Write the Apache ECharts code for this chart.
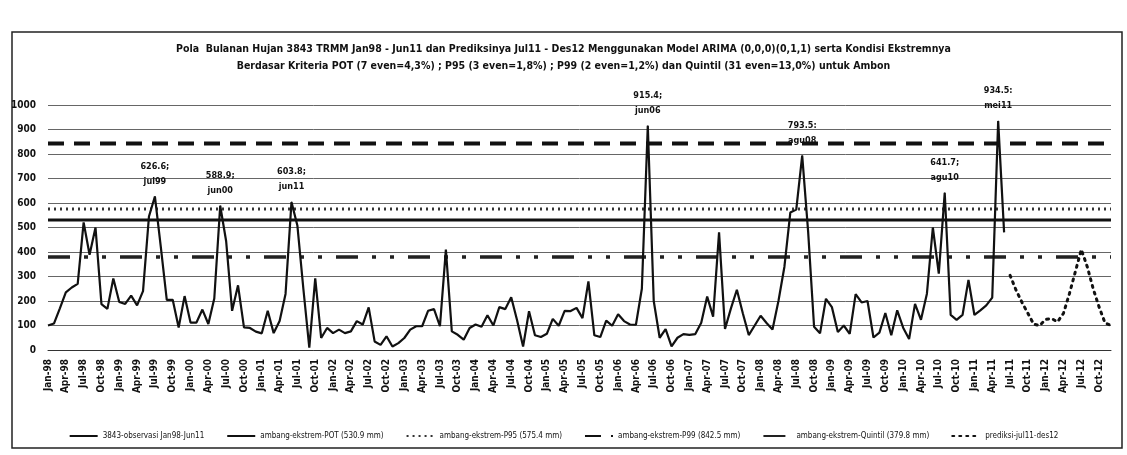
<!DOCTYPE html>
<html>
<head>
<meta charset="utf-8">
<script src="https://cdn.jsdelivr.net/npm/echarts@6/dist/echarts.min.js"></script>
<style>
html, body { margin: 0; padding: 0; background: #fff; }
#main { width: 1127px; height: 455px; }
</style>
</head>
<body>
<div id="main"></div>
<script>
// kategori bulan Jan-98 .. Dec-12
var namaBulan = ['Jan', 'Feb', 'Mar', 'Apr', 'May', 'Jun', 'Jul', 'Aug', 'Sep', 'Oct', 'Nov', 'Dec'];
var tahun = ['98', '99', '00', '01', '02', '03', '04', '05', '06', '07', '08', '09', '10', '11', '12'];

// observasi Jan98 - Jun11 (mm)
var observasi = [
  100, 108, 170, 235, 255, 270, 521, 389, 500, 187, 168, 292,
  196, 188, 222, 182, 240, 545, 626.6, 420, 205, 205, 92, 220,
  112, 112, 165, 106, 210, 588.9, 444, 160, 264, 92, 90, 75,
  68, 160, 69, 118, 229, 603.8, 507, 250, 10, 292, 49, 90,
  69, 83, 69, 76, 118, 104, 174, 35, 21, 56, 14, 28,
  49, 83, 97, 97, 160, 167, 97, 410, 76, 62, 42, 90,
  104, 95, 142, 100, 175, 167, 215, 120, 14, 158, 60, 53,
  66, 127, 99, 160, 159, 172, 130, 280, 60, 53, 120, 99,
  146, 118, 104, 103, 250, 915.4, 200, 50, 85, 15, 50, 65,
  62, 65, 111, 218, 136, 480, 86, 170, 246, 150, 61, 100,
  140, 110, 84, 200, 339, 561, 573, 793.5, 483, 95, 68, 209,
  175, 73, 100, 66, 228, 194, 200, 51, 71, 151, 60, 162,
  91, 45, 188, 123, 230, 500, 312, 641.7, 143, 123, 143, 286,
  143, 162, 182, 214, 934.5, 480
];

// prediksi Jul11 - Des12 (mm)
var prediksi = [305, 245, 195, 150, 105, 100, 125, 128, 115, 150, 230, 320, 410, 340, 250, 175, 110, 100];

// ambang ekstrem (mm)
var ambangPOT = 530.9;
var ambangP95 = 575.4;
var ambangP99 = 842.5;
var ambangQuintil = 379.8;

// label puncak
var puncakBulan = ['Jul-99', 'Jun-00', 'Jun-01', 'Jun-06', 'Aug-08', 'Aug-10', 'May-11'];
var puncakTeks = ['626.6;\njul99', '588.9;\njun00', '603.8;\njun11', '915.4;\njun06', '793.5:\nagu08', '641.7;\nagu10', '934.5:\nmei11'];

var fontNarrow = '"DejaVu Sans Condensed", "Liberation Sans", sans-serif';

var kategori = [];
tahun.forEach(function (t) {
  namaBulan.forEach(function (b) { kategori.push(b + '-' + t); });
});

var dataObs = observasi.map(function (v, i) {
  var k = puncakBulan.indexOf(kategori[i]);
  if (k < 0) return v;
  return { value: v, symbol: 'circle', symbolSize: 1, label: { show: true, formatter: puncakTeks[k] } };
});
var dataPred = kategori.map(function (c, i) {
  return i < observasi.length ? '-' : prediksi[i - observasi.length];
});
function garisAmbang(v) {
  return kategori.map(function () { return v; });
}

var namaObs = '3843-observasi Jan98-Jun11';
var namaPOT = 'ambang-ekstrem-POT (530.9 mm)';
var namaP95 = 'ambang-ekstrem-P95 (575.4 mm)';
var namaP99 = 'ambang-ekstrem-P99 (842.5 mm)';
var namaQ = 'ambang-ekstrem-Quintil (379.8 mm)';
var namaPred = 'prediksi-jul11-des12';

var myChart = echarts.init(document.getElementById('main'));
var option = {
  backgroundColor: '#fff',
  animation: false,
  textStyle: { fontFamily: fontNarrow },
  title: {
    text: 'Pola  Bulanan Hujan 3843 TRMM Jan98 - Jun11 dan Prediksinya Jul11 - Des12 Menggunakan Model ARIMA (0,0,0)(0,1,1) serta Kondisi Ekstremnya\nBerdasar Kriteria POT (7 even=4,3%) ; P95 (3 even=1,8%) ; P99 (2 even=1,2%) dan Quintil (31 even=13,0%) untuk Ambon',
    left: 'center',
    top: 36,
    textStyle: {
      fontFamily: fontNarrow,
      fontSize: 10.5,
      fontWeight: 'bold',
      lineHeight: 17,
      color: '#111'
    }
  },
  graphic: [{
    type: 'rect',
    silent: true,
    shape: { x: 12, y: 32, width: 1110, height: 416 },
    style: { fill: 'none', stroke: '#222', lineWidth: 1.5 }
  }],
  legend: {
    bottom: 10,
    left: 'center',
    itemWidth: 28,
    itemHeight: 10,
    itemGap: 22,
    itemStyle: { opacity: 0 },
    textStyle: { fontFamily: fontNarrow, fontSize: 8, color: '#111' },
    data: [namaObs, namaPOT, namaP95, namaP99, namaQ, namaPred]
  },
  grid: {
    left: 48,
    right: 16,
    top: 105,
    bottom: 105
  },
  xAxis: {
    type: 'category',
    boundaryGap: false,
    data: kategori,
    axisLine: { lineStyle: { color: '#333', width: 1 } },
    axisTick: { show: false },
    axisLabel: {
      interval: 2,
      rotate: 90,
      margin: 9,
      fontSize: 10,
      fontWeight: 'bold',
      fontFamily: fontNarrow,
      color: '#111'
    },
    splitLine: { show: false }
  },
  yAxis: {
    type: 'value',
    min: 0,
    max: 1000,
    interval: 100,
    axisLine: { show: false },
    axisTick: { show: false },
    axisLabel: {
      margin: 12,
      fontSize: 10,
      fontWeight: 'bold',
      fontFamily: fontNarrow,
      color: '#111',
      formatter: function (v) { return String(v); }
    },
    splitLine: { lineStyle: { color: '#666', width: 1 } }
  },
  series: [
    {
      name: namaObs,
      type: 'line',
      symbol: 'none',
      showSymbol: true,
      showAllSymbol: true,
      z: 5,
      color: '#111',
      lineStyle: { color: '#111', width: 2.2 },
      label: {
        position: 'top',
        distance: 7,
        fontFamily: fontNarrow,
        fontSize: 9,
        fontWeight: 'bold',
        lineHeight: 15,
        color: '#111'
      },
      data: dataObs
    },
    {
      name: namaPOT,
      type: 'line',
      symbol: 'none',
      color: '#111',
      lineStyle: { color: '#111', width: 3 },
      data: garisAmbang(ambangPOT)
    },
    {
      name: namaP95,
      type: 'line',
      symbol: 'none',
      color: '#333',
      lineStyle: { color: '#333', width: 3, type: [2, 4] },
      data: garisAmbang(ambangP95)
    },
    {
      name: namaP99,
      type: 'line',
      symbol: 'none',
      color: '#111',
      lineStyle: { color: '#111', width: 4, type: [16, 10] },
      data: garisAmbang(ambangP99)
    },
    {
      name: namaQ,
      type: 'line',
      symbol: 'none',
      color: '#222',
      lineStyle: { color: '#222', width: 3.5, type: [22, 14, 4, 14, 4, 14] },
      data: garisAmbang(ambangQuintil)
    },
    {
      name: namaPred,
      type: 'line',
      symbol: 'none',
      color: '#111',
      lineStyle: { color: '#111', width: 3, type: [2, 5], cap: 'round' },
      data: dataPred
    }
  ]
};
myChart.setOption(option);
</script>
</body>
</html>
